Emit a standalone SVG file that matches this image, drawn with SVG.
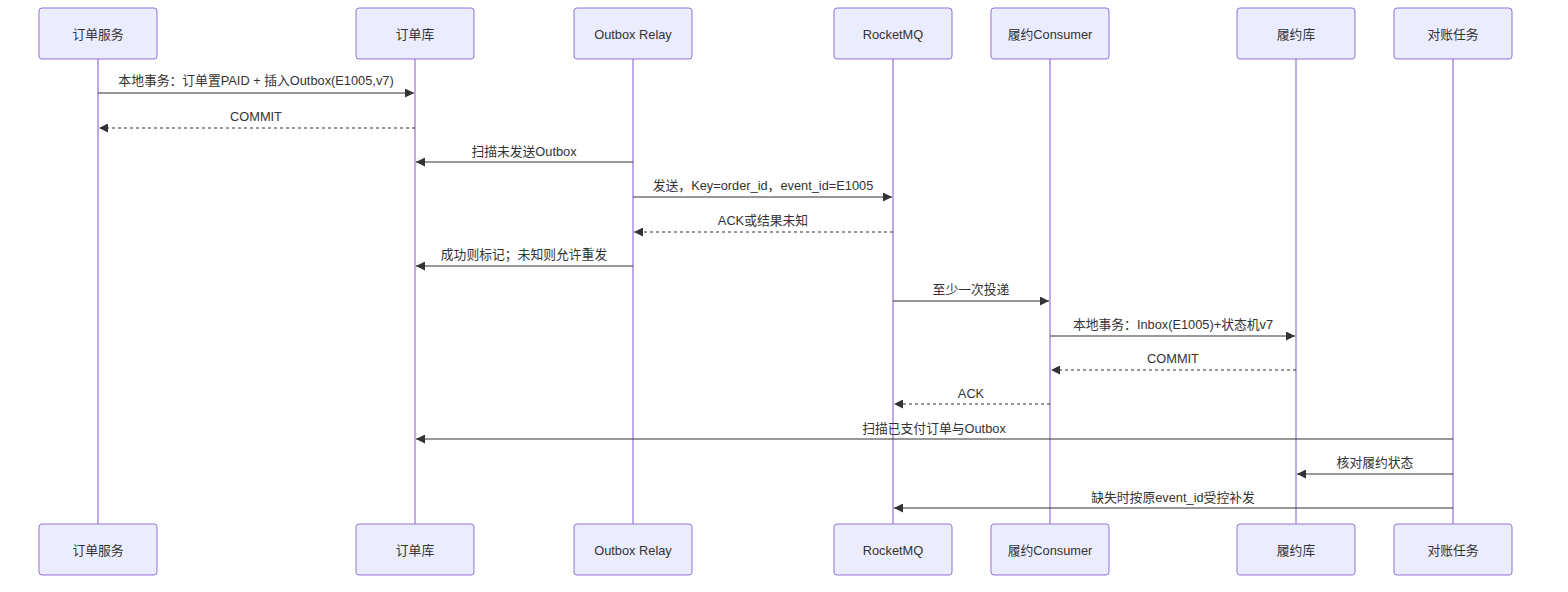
<svg xmlns="http://www.w3.org/2000/svg" width="1568" height="592" viewBox="0 0 1568 592">
<style>
.actor{fill:#ECECFF;stroke:#9370DB;stroke-width:1}
.life{stroke:#9370DB;stroke-width:1.2}
.lbl{font-family:"Liberation Sans","Noto Sans CJK SC",sans-serif;font-size:12.8px;fill:#333;text-anchor:middle}
.msg{stroke:#333;stroke-width:1.2;fill:none}
.dash{stroke-dasharray:3,3}
</style>
<defs>
<marker id="ah" viewBox="0 0 10 10" refX="10" refY="5" markerWidth="9" markerHeight="9" markerUnits="userSpaceOnUse" orient="auto">
<path d="M0,0 L10,5 L0,10 z" fill="#333"/>
</marker>
</defs>
<g id="lifelines">
<line class="life" x1="98" y1="59" x2="98" y2="524"/>
<line class="life" x1="415" y1="59" x2="415" y2="524"/>
<line class="life" x1="633" y1="59" x2="633" y2="524"/>
<line class="life" x1="893" y1="59" x2="893" y2="524"/>
<line class="life" x1="1050" y1="59" x2="1050" y2="524"/>
<line class="life" x1="1296" y1="59" x2="1296" y2="524"/>
<line class="life" x1="1453" y1="59" x2="1453" y2="524"/>
</g>
<g id="actor-order-service">
<rect class="actor" x="39" y="8" width="118" height="51" rx="3"/><text class="lbl" x="98" y="39">订单服务</text>
<rect class="actor" x="39" y="524" width="118" height="51" rx="3"/><text class="lbl" x="98" y="555">订单服务</text>
</g>
<g id="actor-order-db">
<rect class="actor" x="356" y="8" width="118" height="51" rx="3"/><text class="lbl" x="415" y="39">订单库</text>
<rect class="actor" x="356" y="524" width="118" height="51" rx="3"/><text class="lbl" x="415" y="555">订单库</text>
</g>
<g id="actor-outbox-relay">
<rect class="actor" x="574" y="8" width="118" height="51" rx="3"/><text class="lbl" x="633" y="39">Outbox Relay</text>
<rect class="actor" x="574" y="524" width="118" height="51" rx="3"/><text class="lbl" x="633" y="555">Outbox Relay</text>
</g>
<g id="actor-rocketmq">
<rect class="actor" x="834" y="8" width="118" height="51" rx="3"/><text class="lbl" x="893" y="39">RocketMQ</text>
<rect class="actor" x="834" y="524" width="118" height="51" rx="3"/><text class="lbl" x="893" y="555">RocketMQ</text>
</g>
<g id="actor-consumer">
<rect class="actor" x="991" y="8" width="118" height="51" rx="3"/><text class="lbl" x="1050" y="39">履约Consumer</text>
<rect class="actor" x="991" y="524" width="118" height="51" rx="3"/><text class="lbl" x="1050" y="555">履约Consumer</text>
</g>
<g id="actor-fulfil-db">
<rect class="actor" x="1237" y="8" width="118" height="51" rx="3"/><text class="lbl" x="1296" y="39">履约库</text>
<rect class="actor" x="1237" y="524" width="118" height="51" rx="3"/><text class="lbl" x="1296" y="555">履约库</text>
</g>
<g id="actor-recon">
<rect class="actor" x="1394" y="8" width="118" height="51" rx="3"/><text class="lbl" x="1453" y="39">对账任务</text>
<rect class="actor" x="1394" y="524" width="118" height="51" rx="3"/><text class="lbl" x="1453" y="555">对账任务</text>
</g>
<g id="connectors">
<text class="lbl" x="256" y="85">本地事务：订单置PAID + 插入Outbox(E1005,v7)</text>
<line class="msg" x1="98" y1="93" x2="414" y2="93" marker-end="url(#ah)"/>
<text class="lbl" x="256" y="121">COMMIT</text>
<line class="msg dash" x1="415" y1="128" x2="99" y2="128" marker-end="url(#ah)"/>
<text class="lbl" x="524" y="156">扫描未发送Outbox</text>
<line class="msg" x1="633" y1="162" x2="416" y2="162" marker-end="url(#ah)"/>
<text class="lbl" x="763" y="190">发送，Key=order_id，event_id=E1005</text>
<line class="msg" x1="633" y1="197" x2="892" y2="197" marker-end="url(#ah)"/>
<text class="lbl" x="763" y="225">ACK或结果未知</text>
<line class="msg dash" x1="893" y1="232" x2="634" y2="232" marker-end="url(#ah)"/>
<text class="lbl" x="524" y="259">成功则标记；未知则允许重发</text>
<line class="msg" x1="633" y1="266" x2="416" y2="266" marker-end="url(#ah)"/>
<text class="lbl" x="971" y="294">至少一次投递</text>
<line class="msg" x1="893" y1="301" x2="1049" y2="301" marker-end="url(#ah)"/>
<text class="lbl" x="1173" y="329">本地事务：Inbox(E1005)+状态机v7</text>
<line class="msg" x1="1050" y1="336" x2="1295" y2="336" marker-end="url(#ah)"/>
<text class="lbl" x="1173" y="363">COMMIT</text>
<line class="msg dash" x1="1296" y1="370" x2="1051" y2="370" marker-end="url(#ah)"/>
<text class="lbl" x="971" y="398">ACK</text>
<line class="msg dash" x1="1050" y1="404" x2="894" y2="404" marker-end="url(#ah)"/>
<text class="lbl" x="934" y="433">扫描已支付订单与Outbox</text>
<line class="msg" x1="1453" y1="439" x2="416" y2="439" marker-end="url(#ah)"/>
<text class="lbl" x="1375" y="467">核对履约状态</text>
<line class="msg" x1="1453" y1="474" x2="1297" y2="474" marker-end="url(#ah)"/>
<text class="lbl" x="1173" y="502">缺失时按原event_id受控补发</text>
<line class="msg" x1="1453" y1="508" x2="894" y2="508" marker-end="url(#ah)"/>
</g>
</svg>
